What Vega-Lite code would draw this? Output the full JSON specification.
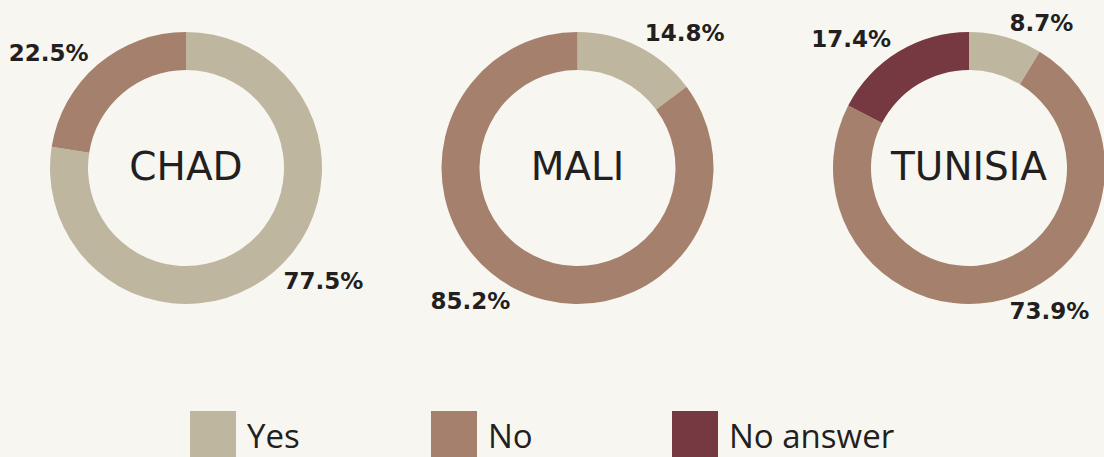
{
 "$schema": "https://vega.github.io/schema/vega-lite/v6.json",
 "width": 1104, "height": 457,
 "autosize": {"type": "none"},
 "padding": 0,
 "background": "#f7f6f1",
 "config": {"view": {"stroke": null}},
 "data": {"values": [
   {"country": "CHAD", "answer": "Yes", "pct": 77.5},
   {"country": "CHAD", "answer": "No", "pct": 22.5},
   {"country": "MALI", "answer": "Yes", "pct": 14.8},
   {"country": "MALI", "answer": "No", "pct": 85.2},
   {"country": "TUNISIA", "answer": "Yes", "pct": 8.7},
   {"country": "TUNISIA", "answer": "No", "pct": 73.9},
   {"country": "TUNISIA", "answer": "No answer", "pct": 17.4}
 ]},
 "transform": [
   {"calculate": "indexof(['Yes','No','No answer'], datum.answer)", "as": "rank"},
   {"stack": "pct", "groupby": ["country"], "sort": [{"field": "rank", "order": "ascending"}], "as": ["p0", "p1"]},
   {"calculate": "(datum.p0 + datum.p1) / 2", "as": "mid"},
   {"calculate": "format(datum.pct, '.1f') + '%'", "as": "label"}
 ],
 "encoding": {
   "x": {"field": "country", "type": "nominal", "scale": {"type": "point", "domain": ["CHAD", "MALI", "TUNISIA"], "range": [186, 969], "padding": 0}, "axis": null},
   "y": {"value": 168}
 },
 "layer": [
  {"mark": {"type": "arc", "innerRadius": 98, "outerRadius": 136, "strokeWidth": 0},
   "encoding": {
     "theta": {"field": "p0", "type": "quantitative", "stack": null, "scale": {"domain": [0, 100]}},
     "theta2": {"field": "p1"},
     "color": {"field": "answer", "type": "nominal",
       "scale": {"domain": ["Yes", "No", "No answer"], "range": ["#bfb6a0", "#a5806c", "#763841"]},
       "legend": {"orient": "none", "legendX": 190, "legendY": 425, "direction": "horizontal", "columns": 3, "gridAlign": "all", "title": null,
         "symbolType": "M-1,-1.609H1V0.391H-1Z", "symbolSize": 2116, "symbolStrokeWidth": 0, "symbolOpacity": 1,
         "labelFont": "Open Sans", "labelFontSize": 33, "labelColor": "#231f20", "labelBaseline": "alphabetic", "labelOffset": 11,
         "columnPadding": 18, "padding": 0, "labelLimit": 400}
     }
   }},
  {"transform": [{"filter": "datum.mid < 50"}],
   "mark": {"type": "text", "radius": 150, "font": "DejaVu Sans", "fontWeight": "bold", "fontSize": 23, "fill": "#231f20", "align": "left", "baseline": "middle"},
   "encoding": {"theta": {"field": "mid", "type": "quantitative", "stack": null}, "text": {"field": "label"}}},
  {"transform": [{"filter": "datum.mid >= 50"}],
   "mark": {"type": "text", "radius": 150, "font": "DejaVu Sans", "fontWeight": "bold", "fontSize": 23, "fill": "#231f20", "align": "right", "baseline": "middle"},
   "encoding": {"theta": {"field": "mid", "type": "quantitative", "stack": null}, "text": {"field": "label"}}},
  {"transform": [{"filter": "datum.answer === 'Yes'"}],
   "mark": {"type": "text", "font": "DejaVu Sans", "fontSize": 39, "fill": "#231f20", "align": "center", "baseline": "middle"},
   "encoding": {"text": {"field": "country"}}}
 ]
}
